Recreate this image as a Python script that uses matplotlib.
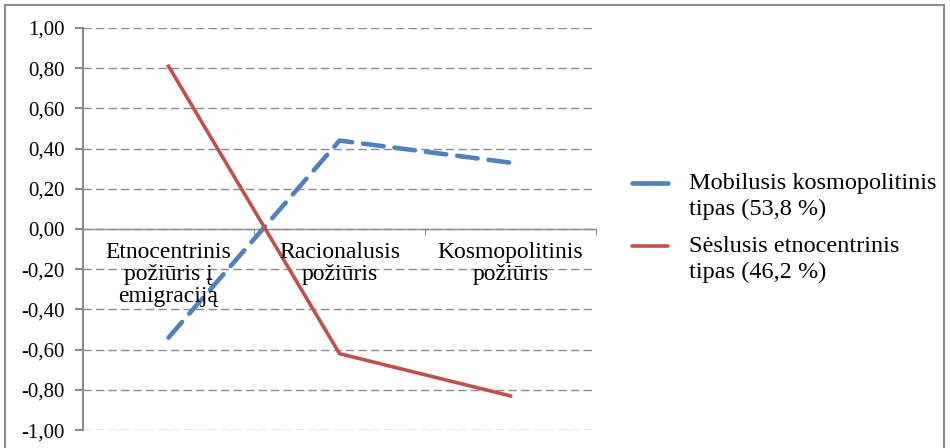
import matplotlib
matplotlib.use('agg')
import matplotlib.pyplot as plt
from matplotlib.patches import Rectangle
from matplotlib.lines import Line2D
from matplotlib.ticker import FuncFormatter

categories = ["Etnocentrinis\npožiūris į\nemigraciją", "Racionalusis\npožiūris", "Kosmopolitinis\npožiūris"]
mobilusis = [-0.54, 0.44, 0.33]
seslusis = [0.81, -0.62, -0.83]
series_labels = ["Mobilusis kosmopolitinis\ntipas (53,8 %)", "Sėslusis etnocentrinis\ntipas (46,2 %)"]
yticks = [-1.0, -0.8, -0.6, -0.4, -0.2, 0.0, 0.2, 0.4, 0.6, 0.8, 1.0]

blue = "#4F81BD"
red = "#C0504D"
gray = "#8c8c8c"

plt.rcParams['font.family'] = ['Liberation Serif', 'DejaVu Serif']

fig = plt.figure(figsize=(9.5, 4.48), dpi=100)
ax = fig.add_axes([0.0874, 0.04, 0.54, 0.8975])

x = range(len(categories))
ax.plot(x, mobilusis, color=blue, linewidth=3.3, linestyle=(0, (4.5, 2.4)),
        dash_capstyle="round", zorder=3)
ax.plot(x, seslusis, color=red, linewidth=2.6, zorder=3)

ax.set_xlim(-0.5, len(categories) - 0.5)
ax.set_ylim(-1.0, 1.0)
ax.set_yticks(yticks)
ax.yaxis.set_major_formatter(FuncFormatter(lambda v, p: ("%.2f" % v).replace(".", ",").replace("-0,00", "0,00")))
ax.grid(axis="y", color=gray, linestyle=(0, (6, 3)), linewidth=1.0)
ax.set_axisbelow(True)

for s in ["top", "right"]:
    ax.spines[s].set_visible(False)
ax.spines["left"].set_color(gray)
ax.spines["left"].set_linewidth(1.5)
ax.spines["bottom"].set_position(("data", 0))
ax.spines["bottom"].set_color(gray)
ax.spines["bottom"].set_linewidth(1.0)

ax.set_xticks([0.5, 1.5, 2.5])
ax.set_xticklabels([])
ax.tick_params(axis="x", direction="out", length=4, color=gray)
ax.tick_params(axis="y", direction="out", length=6, color=gray, width=1.5,
               labelsize=15, pad=7)

for i, c in enumerate(categories):
    ax.text(i, -0.065, c, ha="center", va="top", fontsize=17, linespacing=1.05)

# legend, handle aligned with the first text line
leg_rows = [(183, blue, (0, (4.5, 2.4)), 3.3), (246, red, "-", 2.6)]
for (ypx, col, ls, lw), lab in zip(leg_rows, series_labels):
    yf = 1 - ypx / 448
    fig.add_artist(Line2D([632 / 950, 668 / 950], [yf, yf], transform=fig.transFigure,
                          color=col, linewidth=lw, solid_capstyle="round", dash_capstyle="round"))
    fig.text(689 / 950, yf + 10 / 448, lab, fontsize=17.5, va="top", ha="left", linespacing=1.3)

fig.patches.append(Rectangle((5 / 950, -0.1), 939 / 950, 1.1 - 5 / 448, transform=fig.transFigure,
                             fill=False, edgecolor=gray, linewidth=1.5))

fig.savefig("out.png", dpi=100)
